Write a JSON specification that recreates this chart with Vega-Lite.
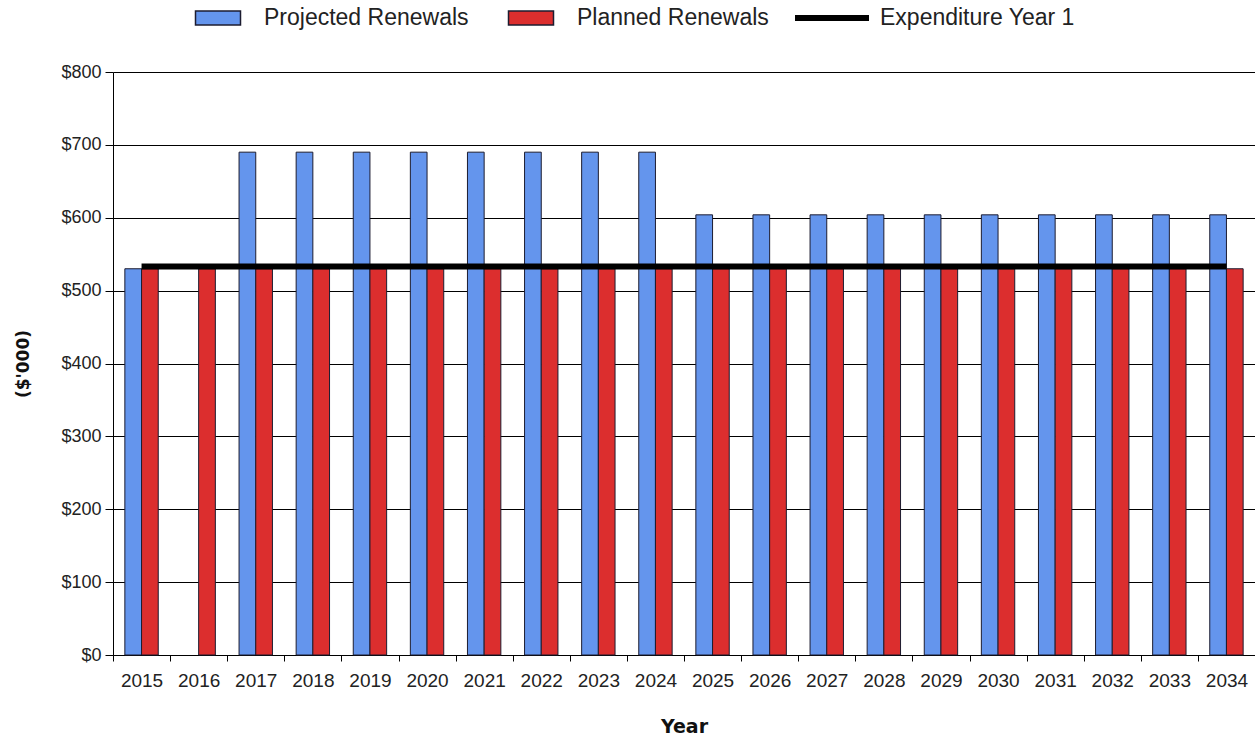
{
  "$schema": "https://vega.github.io/schema/vega-lite/v6.json",
  "width": 1142,
  "height": 583,
  "autosize": {"type": "none"},
  "padding": {"left": 113, "top": 72, "right": 0, "bottom": 85},
  "background": "white",
  "config": {"view": {"stroke": null}, "font": "Liberation Sans"},
  "datasets": {
    "bars": [
      {"year": "2015", "series": "Projected Renewals", "value": 530},
      {"year": "2015", "series": "Planned Renewals", "value": 530},
      {"year": "2016", "series": "Planned Renewals", "value": 530},
      {"year": "2017", "series": "Projected Renewals", "value": 690},
      {"year": "2017", "series": "Planned Renewals", "value": 530},
      {"year": "2018", "series": "Projected Renewals", "value": 690},
      {"year": "2018", "series": "Planned Renewals", "value": 530},
      {"year": "2019", "series": "Projected Renewals", "value": 690},
      {"year": "2019", "series": "Planned Renewals", "value": 530},
      {"year": "2020", "series": "Projected Renewals", "value": 690},
      {"year": "2020", "series": "Planned Renewals", "value": 530},
      {"year": "2021", "series": "Projected Renewals", "value": 690},
      {"year": "2021", "series": "Planned Renewals", "value": 530},
      {"year": "2022", "series": "Projected Renewals", "value": 690},
      {"year": "2022", "series": "Planned Renewals", "value": 530},
      {"year": "2023", "series": "Projected Renewals", "value": 690},
      {"year": "2023", "series": "Planned Renewals", "value": 530},
      {"year": "2024", "series": "Projected Renewals", "value": 690},
      {"year": "2024", "series": "Planned Renewals", "value": 530},
      {"year": "2025", "series": "Projected Renewals", "value": 604},
      {"year": "2025", "series": "Planned Renewals", "value": 530},
      {"year": "2026", "series": "Projected Renewals", "value": 604},
      {"year": "2026", "series": "Planned Renewals", "value": 530},
      {"year": "2027", "series": "Projected Renewals", "value": 604},
      {"year": "2027", "series": "Planned Renewals", "value": 530},
      {"year": "2028", "series": "Projected Renewals", "value": 604},
      {"year": "2028", "series": "Planned Renewals", "value": 530},
      {"year": "2029", "series": "Projected Renewals", "value": 604},
      {"year": "2029", "series": "Planned Renewals", "value": 530},
      {"year": "2030", "series": "Projected Renewals", "value": 604},
      {"year": "2030", "series": "Planned Renewals", "value": 530},
      {"year": "2031", "series": "Projected Renewals", "value": 604},
      {"year": "2031", "series": "Planned Renewals", "value": 530},
      {"year": "2032", "series": "Projected Renewals", "value": 604},
      {"year": "2032", "series": "Planned Renewals", "value": 530},
      {"year": "2033", "series": "Projected Renewals", "value": 604},
      {"year": "2033", "series": "Planned Renewals", "value": 530},
      {"year": "2034", "series": "Projected Renewals", "value": 604},
      {"year": "2034", "series": "Planned Renewals", "value": 530}
    ],
    "line": [
      {"year": "2015", "series": "Expenditure Year 1", "value": 533},
      {"year": "2016", "series": "Expenditure Year 1", "value": 533},
      {"year": "2017", "series": "Expenditure Year 1", "value": 533},
      {"year": "2018", "series": "Expenditure Year 1", "value": 533},
      {"year": "2019", "series": "Expenditure Year 1", "value": 533},
      {"year": "2020", "series": "Expenditure Year 1", "value": 533},
      {"year": "2021", "series": "Expenditure Year 1", "value": 533},
      {"year": "2022", "series": "Expenditure Year 1", "value": 533},
      {"year": "2023", "series": "Expenditure Year 1", "value": 533},
      {"year": "2024", "series": "Expenditure Year 1", "value": 533},
      {"year": "2025", "series": "Expenditure Year 1", "value": 533},
      {"year": "2026", "series": "Expenditure Year 1", "value": 533},
      {"year": "2027", "series": "Expenditure Year 1", "value": 533},
      {"year": "2028", "series": "Expenditure Year 1", "value": 533},
      {"year": "2029", "series": "Expenditure Year 1", "value": 533},
      {"year": "2030", "series": "Expenditure Year 1", "value": 533},
      {"year": "2031", "series": "Expenditure Year 1", "value": 533},
      {"year": "2032", "series": "Expenditure Year 1", "value": 533},
      {"year": "2033", "series": "Expenditure Year 1", "value": 533},
      {"year": "2034", "series": "Expenditure Year 1", "value": 533}
    ]
  },
  "layer": [
    {
      "data": {"name": "bars"},
      "mark": {"type": "bar", "stroke": "#1c1c30", "strokeWidth": 1},
      "encoding": {
        "x": {
          "field": "year",
          "type": "nominal",
          "title": "Year",
          "scale": {"paddingInner": 0, "paddingOuter": 0},
          "axis": {
            "labelAngle": 0,
            "tickBand": "extent",
            "labelFontSize": 19,
            "labelColor": "#222222",
            "labelPadding": 10,
            "tickSize": 6,
            "tickColor": "black",
            "domainColor": "black",
            "titleFont": "DejaVu Sans",
            "titleFontSize": 19,
            "titleFontWeight": "bold",
            "titleColor": "#111111",
            "titlePadding": 27
          }
        },
        "xOffset": {
          "field": "series",
          "type": "nominal",
          "sort": ["Projected Renewals", "Planned Renewals"],
          "scale": {"paddingInner": 0, "paddingOuter": 0.71}
        },
        "y": {
          "field": "value",
          "type": "quantitative",
          "title": "($'000)",
          "scale": {"domain": [0, 800]},
          "axis": {
            "values": [0, 100, 200, 300, 400, 500, 600, 700, 800],
            "labelExpr": "'$' + datum.value",
            "labelFontSize": 18,
            "labelColor": "#222222",
            "labelPadding": 4,
            "tickSize": 8,
            "tickColor": "black",
            "domainColor": "black",
            "grid": true,
            "gridColor": "black",
            "gridOpacity": 1,
            "gridWidth": 1,
            "titleFont": "DejaVu Sans",
            "titleFontSize": 17,
            "titleFontWeight": "bold",
            "titleColor": "#111111",
            "titlePadding": 28
          }
        },
        "color": {
          "field": "series",
          "type": "nominal",
          "scale": {"domain": ["Projected Renewals", "Planned Renewals"], "range": ["#6495ED", "#DC2E2E"]},
          "legend": {
            "title": null,
            "orient": "none",
            "direction": "horizontal",
            "legendX": 89,
            "legendY": -70,
            "padding": 0,
            "labelFontSize": 23,
            "labelLimit": 0,
            "labelColor": "#222222",
            "labelOffset": 30,
            "columnPadding": 36,
            "symbolType": "M-1.5,-0.467H1.5V0.467H-1.5Z",
            "symbolSize": 900,
            "symbolStrokeColor": "#1c1c30",
            "symbolStrokeWidth": 1.5,
            "symbolOpacity": 1
          }
        }
      }
    },
    {
      "data": {"name": "line"},
      "mark": {"type": "line", "color": "black", "strokeWidth": 6, "strokeCap": "butt"},
      "encoding": {
        "x": {"field": "year", "type": "nominal"},
        "y": {"field": "value", "type": "quantitative"},
        "strokeDash": {
          "field": "series",
          "type": "nominal",
          "scale": {"range": [[1, 0]]},
          "legend": {
            "title": null,
            "orient": "none",
            "legendX": 679,
            "legendY": -94,
            "padding": 0,
            "labelFontSize": 23,
            "labelLimit": 0,
            "labelColor": "#222222",
            "labelOffset": 8,
            "symbolType": "stroke",
            "symbolSize": 5476,
            "symbolStrokeColor": "black",
            "symbolStrokeWidth": 6
          }
        }
      }
    }
  ]
}
